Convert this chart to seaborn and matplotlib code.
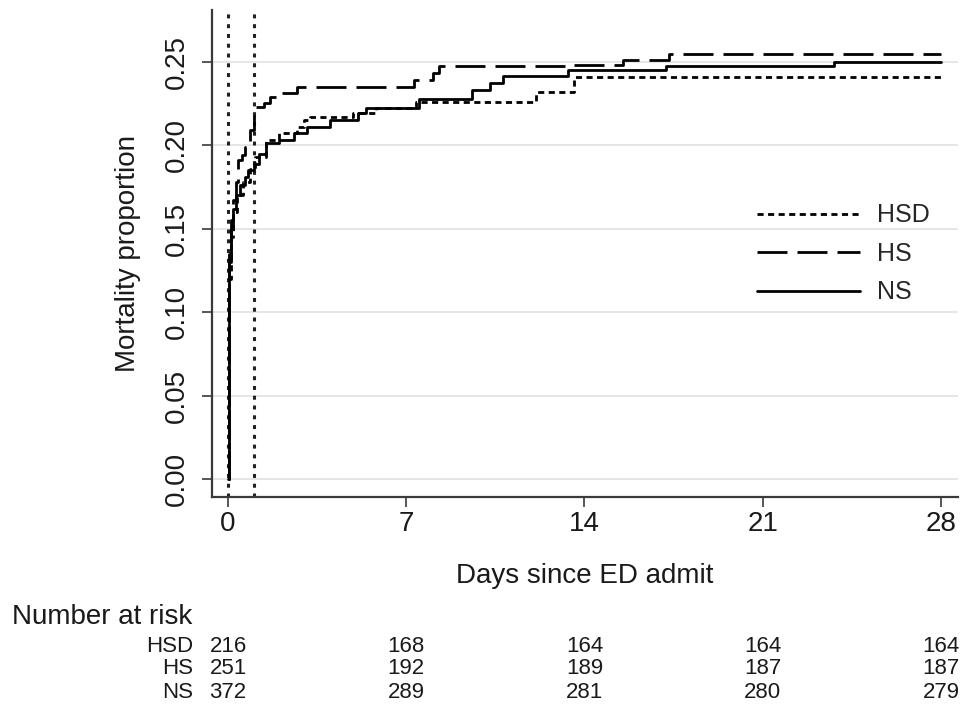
import numpy as np
import pandas as pd
import matplotlib
matplotlib.use("Agg")
import matplotlib.pyplot as plt
import matplotlib.transforms as mtransforms
import seaborn as sns

# step curves (time in days, cumulative mortality)
hsd_t = [0, 0.02, 0.05, 0.1, 0.2, 0.35, 0.6, 0.85, 1.05, 1.5, 2.0, 2.7, 3.0, 3.2, 4.9, 5.8, 7.4, 12.1, 13.6, 28]
hsd_v = [0, 0.07, 0.12, 0.145, 0.16, 0.17, 0.178, 0.186, 0.193, 0.203, 0.2075, 0.211, 0.215, 0.217, 0.2194, 0.2224, 0.226, 0.2316, 0.2406, 0.2406]

hs_t = [0, 0.02, 0.05, 0.1, 0.2, 0.3, 0.4, 0.55, 0.67, 0.86, 1.0, 1.4, 1.65, 2.0, 2.7, 7.3, 8.05, 8.3, 13.3, 15.5, 17.3, 28]
hs_v = [0, 0.09, 0.135, 0.155, 0.167, 0.178, 0.191, 0.194, 0.199, 0.209, 0.223, 0.225, 0.229, 0.231, 0.235, 0.2388, 0.243, 0.2472, 0.248, 0.2512, 0.2548, 0.2548]

ns_t = [0, 0.02, 0.05, 0.1, 0.2, 0.3, 0.47, 0.65, 0.8, 1.0, 1.2, 1.5, 2.0, 2.6, 3.1, 4.0, 5.1, 5.4, 7.5, 9.6, 10.3, 10.8, 13.35, 17.2, 23.8, 28]
ns_v = [0, 0.08, 0.13, 0.15, 0.162, 0.17, 0.176, 0.181, 0.185, 0.189, 0.195, 0.2014, 0.203, 0.2075, 0.211, 0.215, 0.219, 0.2224, 0.2276, 0.233, 0.237, 0.2416, 0.2448, 0.2476, 0.25, 0.25]

groups = ["HSD", "HS", "NS"]
risk_days = [0, 7, 14, 21, 28]
risk_hsd = [216, 168, 164, 164, 164]
risk_hs = [251, 192, 189, 187, 187]
risk_ns = [372, 289, 281, 280, 279]
ref_days = [0, 1]

sns.set_theme(style="white")
plt.rcParams["font.family"] = ["Liberation Sans", "DejaVu Sans"]

fig = plt.figure(figsize=(9.64, 7.12), dpi=100)
ax = fig.add_axes([212 / 964, 1 - 497 / 712, 746 / 964, 487 / 712])

dark = "#3a3a3a"
txt = "#1a1a1a"
for d in ref_days:
    ax.axvline(d, color="#222222", lw=2.2, linestyle=(0, (1.3, 1.9)), zorder=1)

styles = {"HSD": (0, (2.2, 1.6)), "HS": (0, (10.8, 3.6)), "NS": "-"}
data = {"HSD": (hsd_t, hsd_v), "HS": (hs_t, hs_v), "NS": (ns_t, ns_v)}
for g in groups:
    t, v = data[g]
    df = pd.DataFrame({"t": t, "v": v})
    sns.lineplot(data=df, x="t", y="v", ax=ax, estimator=None, sort=False,
                 drawstyle="steps-post", color="black", lw=2,
                 linestyle=styles[g], label=g, zorder=3)

ax.set_xlim(-0.63, 28.67)
ax.set_ylim(-0.0108, 0.281)
ax.set_xticks(risk_days)
ax.set_yticks([0, 0.05, 0.10, 0.15, 0.20, 0.25])
ax.set_yticklabels(["0.00", "0.05", "0.10", "0.15", "0.20", "0.25"])
ax.yaxis.grid(True, color="#e4e4e4", lw=1.3)
ax.xaxis.grid(False)
ax.set_axisbelow(True)

for s in ["top", "right"]:
    ax.spines[s].set_visible(False)
for s in ["left", "bottom"]:
    ax.spines[s].set_color(dark)
    ax.spines[s].set_linewidth(1.6)

ax.tick_params(axis="both", direction="out", length=7, width=1.2, color=dark,
               labelsize=20, labelcolor=txt, bottom=True, left=True)
ax.tick_params(axis="x", pad=3)
ax.tick_params(axis="y", pad=9)
for lab in ax.get_yticklabels():
    lab.set_rotation(90)
    lab.set_va("center")

ax.set_xlabel("Days since ED admit", fontsize=20, color=txt)
ax.set_ylabel("Mortality proportion", fontsize=20, color=txt)
ax.xaxis.set_label_coords(0.5, -0.135)
ax.yaxis.set_label_coords(-0.095, 0.5)

ax.legend(loc="upper left", bbox_to_anchor=(0.7306, 0.603), frameon=False,
          fontsize=18, handlelength=4.1, handletextpad=0.68, labelspacing=0.58,
          borderpad=0, borderaxespad=0)

# number at risk table
trans = mtransforms.blended_transform_factory(ax.transData, fig.transFigure)
fig.text(12 / 964, 1 - 617 / 712, "Number at risk", fontsize=20, va="center", ha="left", color=txt)
rows = [risk_hsd, risk_hs, risk_ns]
row_y = [646, 669, 692]
for g, r, yy in zip(groups, rows, row_y):
    fig.text(193 / 964, 1 - yy / 712, g, fontsize=16, ha="right", va="center", color=txt)
    for d, n in zip(risk_days, r):
        ax.text(d, 1 - yy / 712, str(n), transform=trans, fontsize=16,
                ha="center", va="center", color=txt, clip_on=False)

fig.savefig("out.png", dpi=100, facecolor="white")
